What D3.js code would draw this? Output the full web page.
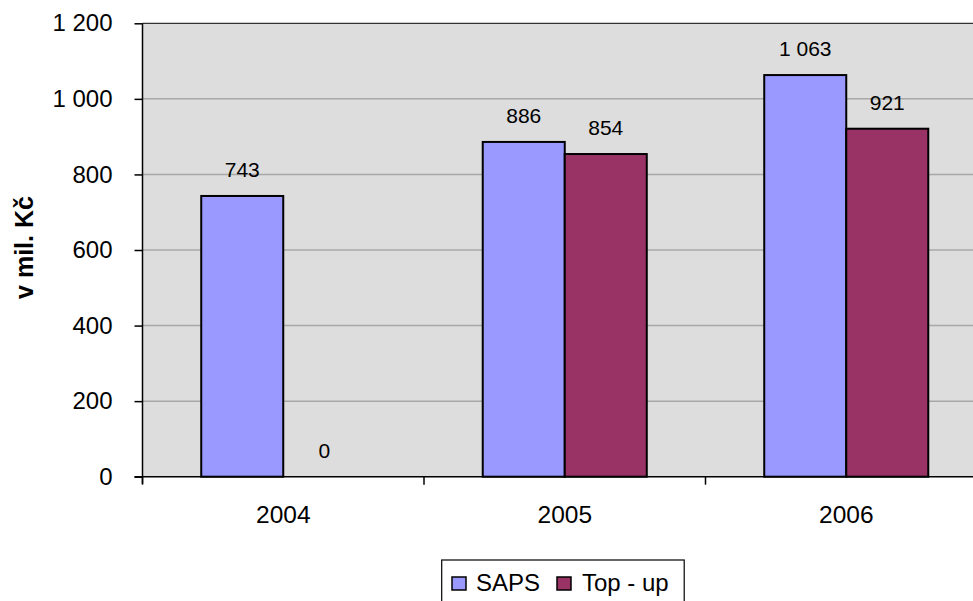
<!DOCTYPE html>
<html>
<head>
<meta charset="utf-8">
<script src="https://cdn.jsdelivr.net/npm/d3@7"></script>
<style>
  html, body { margin: 0; padding: 0; background: #ffffff; }
  svg { display: block; font-family: "Liberation Sans", Arial, sans-serif; }
</style>
</head>
<body>
<svg id="chart" width="973" height="601"></svg>
<script>
const categories = ["2004", "2005", "2006"];
const seriesNames = ["SAPS", "Top - up"];
const sapsValues = [743, 886, 1063];
const topUpValues = [0, 854, 921];
const yTicks = [0, 200, 400, 600, 800, 1000, 1200];
const yTitle = "v mil. Kč";

(function () {
const colors = { "SAPS": "#9999FF", "Top - up": "#993366" };
const fmt = v => d3.format(",")(v).replace(/,/g, " ");

const svg = d3.select("#chart");
const pLeft = 142.5, pTop = 23.3, pBottom = 476.7, step = 281.5;
const pRight = pLeft + step * categories.length;

const x0 = d3.scaleBand().domain(categories).range([pLeft, pRight]).padding(0);
const x1 = d3.scaleBand().domain(seriesNames).range([0, x0.bandwidth()]).paddingInner(0).paddingOuter(0.716);
const y = d3.scaleLinear().domain([0, 1200]).range([pBottom, pTop]);

const data = categories.map((c, i) => ({
  cat: c,
  vals: [{ s: "SAPS", v: sapsValues[i] }, { s: "Top - up", v: topUpValues[i] }]
}));

// plot background
svg.append("rect").attr("x", pLeft).attr("y", pTop).attr("width", pRight - pLeft).attr("height", pBottom - pTop)
  .attr("fill", "#DDDDDD");

// gridlines
svg.append("g").selectAll("line").data(yTicks.filter(t => t > 0)).join("line")
  .attr("x1", pLeft).attr("x2", pRight)
  .attr("y1", d => y(d)).attr("y2", d => y(d))
  .attr("stroke", d => d === 1200 ? "#333" : "#A8A8A8").attr("stroke-width", d => d === 1200 ? 1.2 : 1.5);

// bars
const groups = svg.append("g").selectAll("g").data(data).join("g")
  .attr("transform", d => `translate(${x0(d.cat)},0)`);
groups.selectAll("rect").data(d => d.vals.filter(e => e.v > 0)).join("rect")
  .attr("x", d => x1(d.s)).attr("width", x1.bandwidth())
  .attr("y", d => y(d.v)).attr("height", d => y(0) - y(d.v))
  .attr("fill", d => colors[d.s]).attr("stroke", "#000").attr("stroke-width", 2);
groups.selectAll("text").data(d => d.vals).join("text")
  .attr("x", d => x1(d.s) + x1.bandwidth() / 2)
  .attr("y", d => y(d.v) - 19)
  .attr("text-anchor", "middle").attr("font-size", 21).attr("fill", "#000")
  .text(d => fmt(d.v));

// y axis
const yAxis = d3.axisLeft(y).tickValues(yTicks).tickSize(8).tickPadding(22).tickFormat(fmt);
const gy = svg.append("g").attr("transform", `translate(${pLeft},0)`).call(yAxis);
gy.select(".domain").attr("stroke", "#000").attr("stroke-width", 1.5).attr("d", `M0,${pTop}V${pBottom + 7}`);
gy.selectAll(".tick line").attr("stroke", "#000").attr("stroke-width", 1.5);
gy.selectAll(".tick text").attr("font-size", 24).attr("fill", "#000").attr("font-family", "Liberation Sans, Arial, sans-serif");

// x axis
const xAxis = d3.axisBottom(x0).tickSize(0).tickPadding(29);
const gx = svg.append("g").attr("transform", `translate(0,${pBottom})`).call(xAxis);
gx.select(".domain").attr("stroke", "#000").attr("stroke-width", 1.5).attr("d", `M${pLeft - 8},0H${pRight}`);
gx.selectAll(".tick text").attr("font-size", 24.5).attr("fill", "#000").attr("font-family", "Liberation Sans, Arial, sans-serif");
// category boundary ticks
svg.append("g").selectAll("line").data(categories).join("line")
  .attr("x1", d => x0(d)).attr("x2", d => x0(d))
  .attr("y1", pBottom).attr("y2", pBottom + 8)
  .attr("stroke", "#000").attr("stroke-width", 1.5);

// y title
svg.append("text").attr("transform", `translate(33,247.5) rotate(-90)`)
  .attr("text-anchor", "middle").attr("font-size", 25).attr("font-weight", "bold").text(yTitle);

// legend
const lg = svg.append("g");
lg.append("rect").attr("x", 441.7).attr("y", 560).attr("width", 242.5).attr("height", 60)
  .attr("fill", "#fff").attr("stroke", "#000").attr("stroke-width", 1.2);
const legendItems = [{ s: "SAPS", sx: 452, tx: 476 }, { s: "Top - up", sx: 557, tx: 582 }];
legendItems.forEach(it => {
  lg.append("rect").attr("x", it.sx).attr("y", 577).attr("width", 14).attr("height", 13)
    .attr("fill", colors[it.s]).attr("stroke", "#000").attr("stroke-width", 1.5);
  lg.append("text").attr("x", it.tx).attr("y", 591).attr("font-size", 24).text(it.s);
});
})();
</script>
</body>
</html>
